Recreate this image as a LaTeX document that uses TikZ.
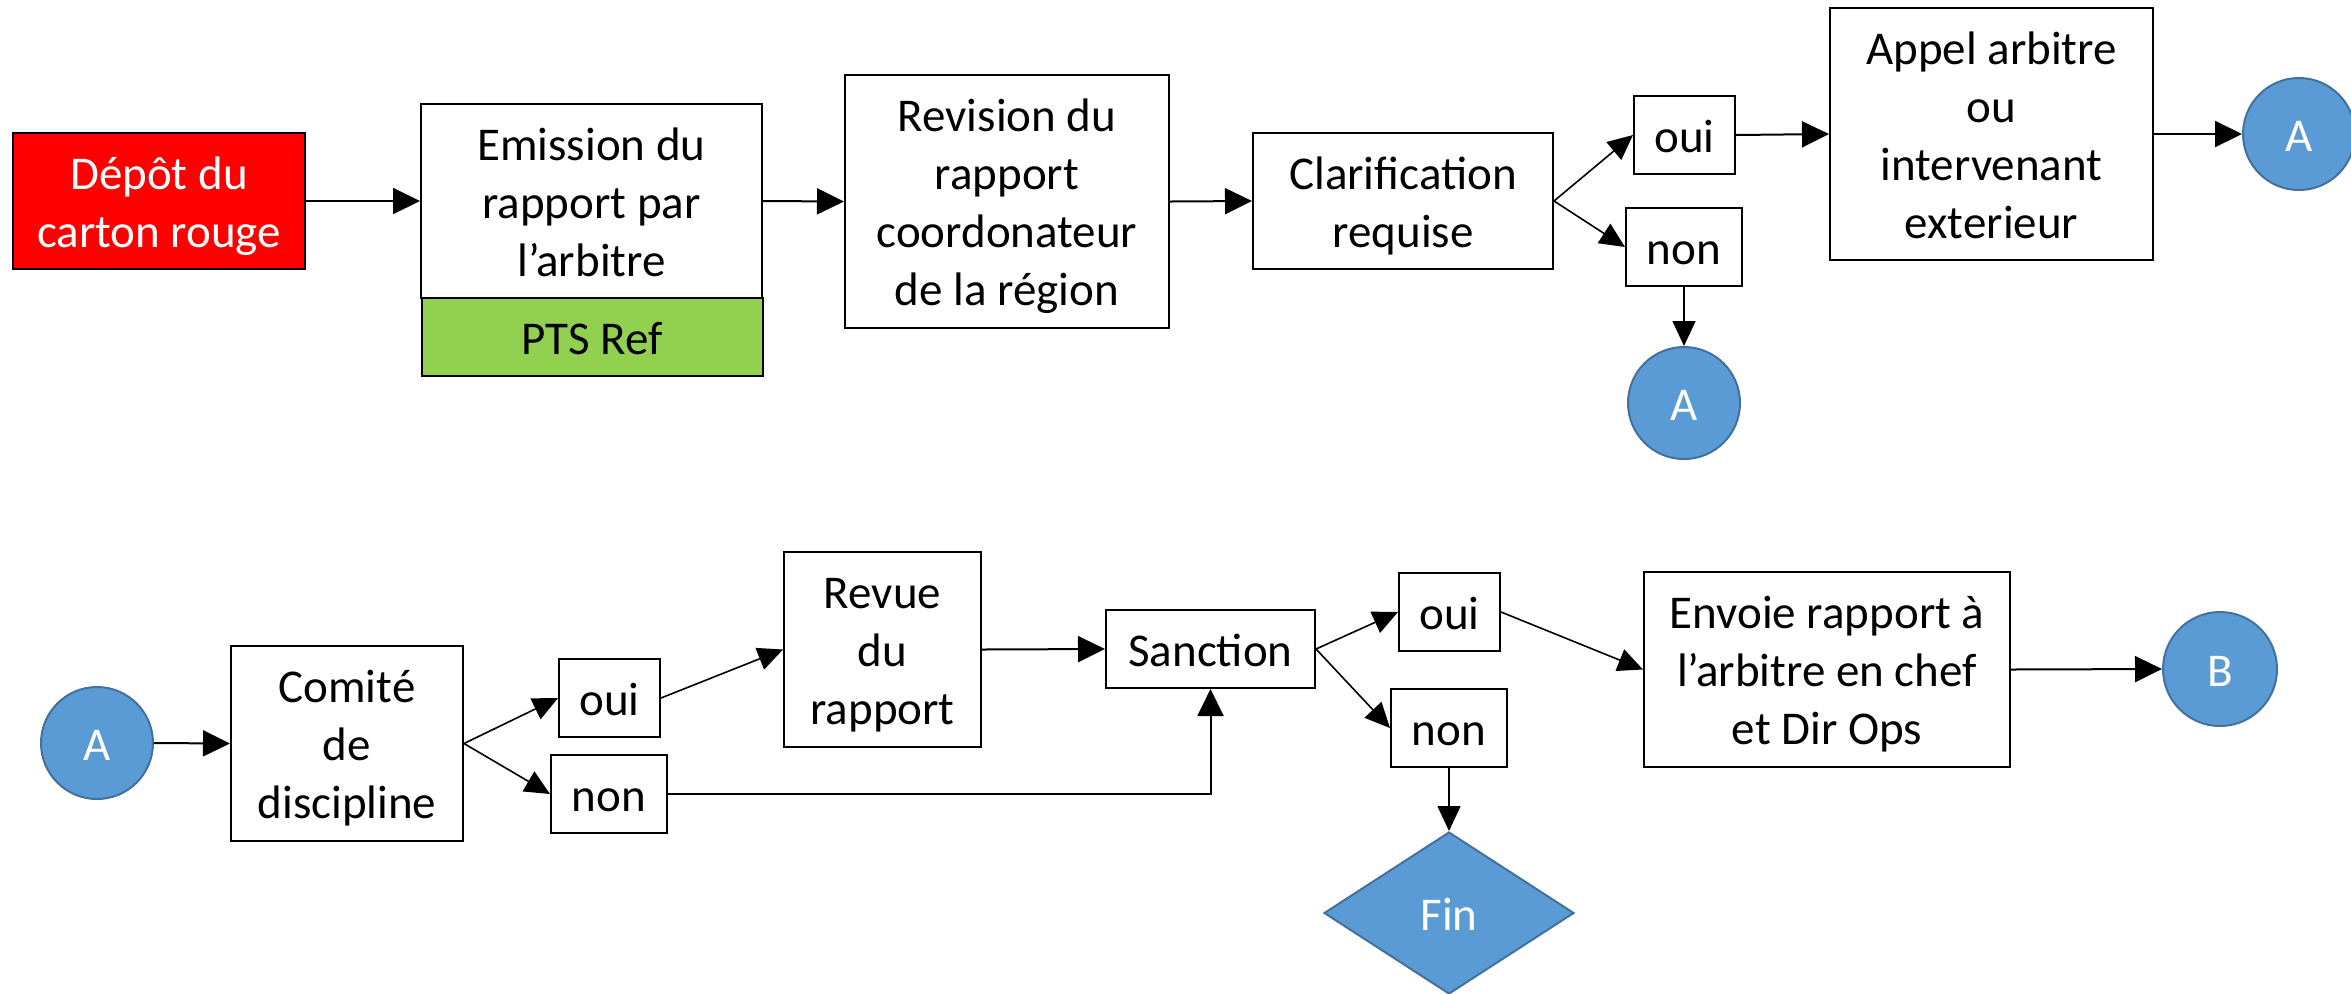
\documentclass[tikz,border=0pt]{standalone}
\usepackage{fontspec}
\setmainfont{Carlito}
\usetikzlibrary{shapes.geometric,arrows.meta}
\definecolor{cardred}{HTML}{FF0000}
\definecolor{ptsgreen}{HTML}{92D050}
\definecolor{blueA}{HTML}{5B9BD5}
\definecolor{blueborder}{HTML}{41719C}
\newcommand\lnst{\rule[-5.8pt]{0pt}{29pt}}
\begin{document}
\begin{tikzpicture}[x=0.5pt,y=-0.5pt,
  font=\fontsize{23.5}{29}\selectfont,
  box/.style={draw=black,line width=1pt,fill=white,align=center,inner sep=0pt},
  conn/.style={circle,draw=blueborder,line width=1pt,fill=blueA,text=white,minimum size=56pt,inner sep=0pt},
  arr/.style={-{Triangle[length=13.5pt,width=13pt]},line width=1pt},
  darr/.style={-{Triangle[length=12.5pt,width=11.5pt]},line width=0.8pt},
]
\useasboundingbox (0,0) rectangle (2351,993);

% top row
\node[box,fill=cardred,text=white,minimum width=146pt,minimum height=68pt] (depot) at (159,201) {\lnst Dépôt du\\carton rouge\lnst};
\node[box,minimum width=170.5pt,minimum height=97pt] (emis) at (591.5,201) {\lnst Emission du\\rapport par\\l’arbitre\lnst};
\node[box,fill=ptsgreen,minimum width=170.5pt,minimum height=39pt] (pts) at (592,337) {\lnst PTS Ref};
\node[box,minimum width=162pt,minimum height=126.5pt] (revis) at (1007,201.5) {\lnst Revision du\\rapport\\coordonateur\\de la région\lnst};
\node[box,minimum width=150pt,minimum height=68pt] (clar) at (1403,201) {\lnst Clarification\\requise\lnst};
\node[box,minimum width=50.5pt,minimum height=39pt] (oui1) at (1684.5,135) {\lnst oui};
\node[box,minimum width=58pt,minimum height=39pt] (non1) at (1684,247) {\lnst non};
\node[box,minimum width=161.5pt,minimum height=126pt] (appel) at (1991.5,134) {\lnst Appel arbitre\\ou\\intervenant\\exterieur\lnst};
\node[conn] (a1) at (2299,134) {\lnst A};
\node[conn] (a2) at (1684,403) {\lnst A};

% bottom row
\node[conn] (a3) at (97,743) {\lnst A};
\node[box,minimum width=116pt,minimum height=97.5pt] (comite) at (347,743.5) {\lnst Comité\\de\\discipline\lnst};
\node[box,minimum width=50.5pt,minimum height=39pt] (oui2) at (609.5,698) {\lnst oui};
\node[box,minimum width=58pt,minimum height=39pt] (non2) at (609,794) {\lnst non};
\node[box,minimum width=98.5pt,minimum height=97.5pt] (revue) at (882.5,649.5) {\lnst Revue\\du\\rapport\lnst};
\node[box,minimum width=104.5pt,minimum height=39pt] (sanction) at (1210.5,649) {\lnst Sanction};
\node[box,minimum width=50.5pt,minimum height=39pt] (oui3) at (1449.5,612) {\lnst oui};
\node[box,minimum width=58pt,minimum height=39pt] (non3) at (1449,728) {\lnst non};
\node[box,minimum width=183pt,minimum height=97.5pt] (envoie) at (1827,669.5) {\lnst Envoie rapport à\\l’arbitre en chef\\et Dir Ops\lnst};
\node[conn,minimum size=57pt] (b) at (2220,669) {\lnst B};
\node[diamond,draw=blueborder,fill=blueA,text=white,line width=1pt,minimum width=125pt,minimum height=81pt,inner sep=0pt] (fin) at (1449,913) {\lnst Fin};

% connectors top
\draw[arr] (depot.east) -- (emis.west);
\draw[arr] (emis.east) -- (revis.west);
\draw[arr] (revis.east) -- (clar.west);
\draw[darr] (clar.east) -- (oui1.west);
\draw[darr] (clar.east) -- (non1.west);
\draw[arr] (oui1.east) -- (appel.west);
\draw[arr] (appel.east) -- (a1.west);
\draw[darr] (non1.south) -- (a2.north);

% connectors bottom
\draw[arr] (a3.east) -- (comite.west);
\draw[darr] (comite.east) -- (oui2.west);
\draw[darr] (comite.east) -- (non2.west);
\draw[darr] (oui2.east) -- (revue.west);
\draw[arr] (revue.east) -- (sanction.west);
\draw[arr] (non2.east) -| (sanction.south);
\draw[darr] (sanction.east) -- (oui3.west);
\draw[darr] (sanction.east) -- (non3.west);
\draw[darr] (oui3.east) -- (envoie.west);
\draw[arr] (envoie.east) -- (b.west);
\draw[darr] (non3.south) -- (fin.north);
\end{tikzpicture}
\end{document}
